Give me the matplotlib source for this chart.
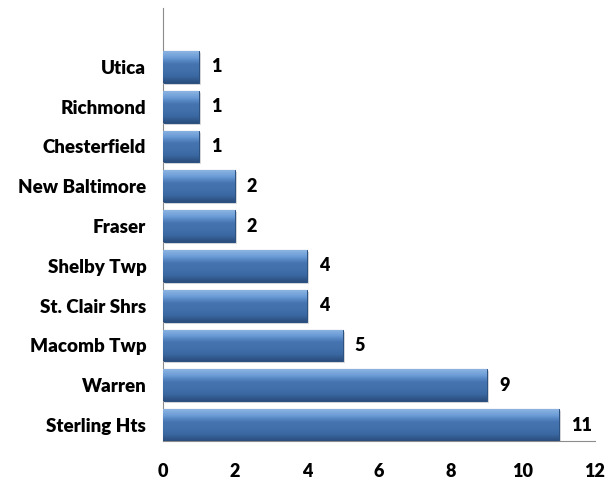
import numpy as np
import matplotlib.pyplot as plt
from matplotlib.colors import LinearSegmentedColormap

cities = ['Sterling Hts', 'Warren', 'Macomb Twp', 'St. Clair Shrs', 'Shelby Twp',
          'Fraser', 'New Baltimore', 'Chesterfield', 'Richmond', 'Utica']
counts = [11, 9, 5, 4, 4, 2, 2, 1, 1, 1]
xticks = [0, 2, 4, 6, 8, 10, 12]

plt.rcParams['font.family'] = ['Lato', 'DejaVu Sans']

fig = plt.figure(figsize=(6.06, 4.82), dpi=100)
ax = fig.add_axes([163 / 606, 41 / 482, 432 / 606, 433 / 482])

y = np.arange(len(cities))
bars = ax.barh(y, counts, height=0.8, color='#3d6ba6', edgecolor='#2c5282',
               linewidth=0.8, zorder=2)

grad = LinearSegmentedColormap.from_list(
    'bev', ['#2a4d7d', '#3a67a0', '#4170ab', '#4574b0', '#6a9bd6', '#8cb4e2'])
g = np.linspace(0, 1, 64).reshape(-1, 1)
for b in bars:
    x0, y0 = b.get_x(), b.get_y()
    w, h = b.get_width(), b.get_height()
    im = ax.imshow(g, cmap=grad, aspect='auto', origin='lower',
                   extent=(x0, x0 + w, y0, y0 + h), zorder=3)
    im.set_clip_path(b)
    # soft shadow
    ax.add_patch(plt.Rectangle((x0 + 0.06, y0 - 0.05), w, h, color='#b8b8b8',
                               alpha=0.5, zorder=1, lw=0))

for yi, c in zip(y, counts):
    ax.text(c + 0.33, yi, str(c), va='center', ha='left', fontsize=13,
            fontweight='heavy', color='black')

ax.set_yticks(y)
ax.set_yticklabels(cities, fontsize=13.5, fontweight='heavy')
ax.set_xticks(xticks)
ax.set_xticklabels([str(t) for t in xticks], fontsize=13, fontweight='heavy')
ax.set_xlim(0, 12)
ax.set_ylim(-0.4, 10.48)
ax.tick_params(axis='y', length=0, pad=12)
ax.tick_params(axis='x', length=0, pad=16)
for s in ['top', 'right']:
    ax.spines[s].set_visible(False)
ax.spines['left'].set_color('#8c8c8c')
ax.spines['bottom'].set_color('#8c8c8c')

fig.savefig('out.png', dpi=100)
